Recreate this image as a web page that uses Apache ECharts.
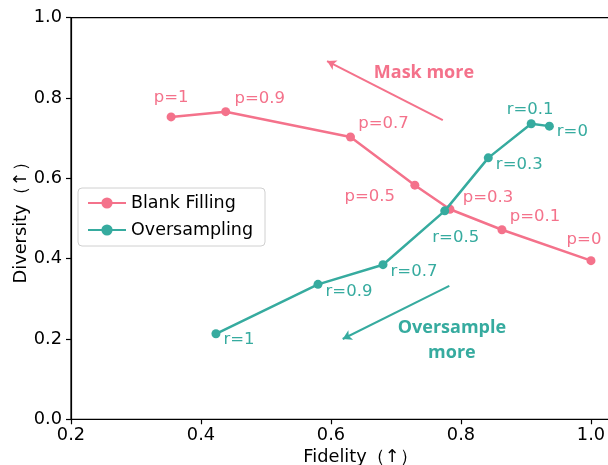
<!DOCTYPE html>
<html>
<head>
<meta charset="utf-8">
<script src="https://cdn.jsdelivr.net/npm/echarts@6/dist/echarts.min.js"></script>
<style>html,body{margin:0;padding:0;background:#fff}#c{width:608px;height:465px}</style>
</head>
<body>
<div id="c"></div>
<script>
// ---- data ----
const blankFidelity = [0.354, 0.438, 0.630, 0.729, 0.783, 0.863, 1.000];
const blankDiversity = [0.753, 0.766, 0.703, 0.583, 0.523, 0.472, 0.395];
const blankLabels = ['p=1', 'p=0.9', 'p=0.7', 'p=0.5', 'p=0.3', 'p=0.1', 'p=0'];

const overFidelity = [0.936, 0.908, 0.842, 0.775, 0.680, 0.580, 0.423];
const overDiversity = [0.730, 0.736, 0.651, 0.519, 0.385, 0.336, 0.213];
const overLabels = ['r=0', 'r=0.1', 'r=0.3', 'r=0.5', 'r=0.7', 'r=0.9', 'r=1'];

const xTicks = [0.2, 0.4, 0.6, 0.8, 1.0];
const yTicks = [0.0, 0.2, 0.4, 0.6, 0.8, 1.0];

// annotation arrows (head first, tail second) and texts, in data coordinates
const maskArrow = [[0.594, 0.892], [0.772, 0.745]];
const overArrow = [[0.618, 0.200], [0.782, 0.332]];
const maskText = [0.743, 0.862];
const overText = [0.786, 0.197];

// ---- styles ----
const PINK = '#F4728B';
const TEAL = '#36AB9F';
const blankOffsets = [[0, -19], [34, -13], [33, -13], [-45, 12], [38, -12], [33, -13], [-7, -21]];
const overOffsets = [[23, 6], [-1, -14], [31, 7], [11, 27], [31, 7], [31, 7], [23, 6]];

function buildData(xs, ys, labels, offsets, color) {
  return xs.map((x, i) => ({
    value: [x, ys[i]],
    label: {
      show: true, position: 'inside', offset: offsets[i],
      formatter: labels[i], color: color,
      fontFamily: 'DejaVu Sans', fontSize: 16.5
    }
  }));
}

const chart = echarts.init(document.getElementById('c'), null, {renderer: 'canvas'});
const axisFont = {fontFamily: 'DejaVu Sans', fontSize: 17.8, color: '#000'};

chart.setOption({
  animation: false,
  backgroundColor: '#fff',
  grid: {left: 71, top: 17.7, right: -42, bottom: 465 - 419.3, show: true, borderColor: '#000', borderWidth: 1.2,
         containLabel: false, outerBoundsMode: 'none'},
  legend: {
    left: 78, top: 188, orient: 'vertical',
    padding: [6, 12, 7, 9], itemGap: 9, itemWidth: 38, itemHeight: 14, itemTextGap: 13,
    borderColor: '#d0d0d0', borderWidth: 1, borderRadius: 4, backgroundColor: '#fff',
    textStyle: {fontFamily: 'DejaVu Sans', fontSize: 17.5, color: '#000'},
    data: ['Blank Filling', 'Oversampling']
  },
  xAxis: {
    type: 'value', min: 0.2, max: 1.0908,
    name: 'Fidelity（↑）', nameLocation: 'middle', nameGap: 29, nameMoveOverlap: false,
    nameTextStyle: {fontFamily: 'DejaVu Sans', fontSize: 17.8, color: '#000', verticalAlign: 'top'},
    axisLine: {show: true, lineStyle: {color: '#000', width: 1.2}},
    axisTick: {show: true, inside: false, length: 5, lineStyle: {color: '#000', width: 1.2}, customValues: xTicks},
    axisLabel: Object.assign({margin: 7, customValues: xTicks, formatter: v => v.toFixed(1)}, axisFont),
    splitLine: {show: false}
  },
  yAxis: {
    type: 'value', min: 0, max: 1, interval: 0.2,
    name: 'Diversity（↑）', nameLocation: 'middle', nameGap: 41, nameMoveOverlap: false,
    nameTextStyle: {fontFamily: 'DejaVu Sans', fontSize: 17.8, color: '#000'},
    axisLine: {show: true, lineStyle: {color: '#000', width: 1.2}},
    axisTick: {show: true, inside: false, length: 5, lineStyle: {color: '#000', width: 1.2}},
    axisLabel: Object.assign({margin: 9, formatter: v => v.toFixed(1)}, axisFont),
    splitLine: {show: false}
  },
  series: [
    {
      name: 'Blank Filling', type: 'line',
      data: buildData(blankFidelity, blankDiversity, blankLabels, blankOffsets, PINK),
      color: PINK, symbol: 'circle', symbolSize: 9, showSymbol: true,
      lineStyle: {color: PINK, width: 2.5}, itemStyle: {color: PINK},
      z: 3,
      markLine: {
        silent: true, symbol: ['arrow', 'none'], symbolSize: [8, 9],
        lineStyle: {color: PINK, width: 2, type: 'solid'}, label: {show: false},
        data: [[{coord: maskArrow[0]}, {coord: maskArrow[1]}]]
      },
      markPoint: {
        silent: true, symbol: 'circle', symbolSize: 0,
        data: [{coord: maskText, label: {show: true, position: 'inside', formatter: 'Mask more', color: PINK,
          fontFamily: 'Open Sans', fontWeight: 'bold', fontSize: 18}}]
      }
    },
    {
      name: 'Oversampling', type: 'line',
      data: buildData(overFidelity, overDiversity, overLabels, overOffsets, TEAL),
      color: TEAL, symbol: 'circle', symbolSize: 9, showSymbol: true,
      lineStyle: {color: TEAL, width: 2.5}, itemStyle: {color: TEAL},
      z: 4,
      markLine: {
        silent: true, symbol: ['arrow', 'none'], symbolSize: [8, 9],
        lineStyle: {color: TEAL, width: 2, type: 'solid'}, label: {show: false},
        data: [[{coord: overArrow[0]}, {coord: overArrow[1]}]]
      },
      markPoint: {
        silent: true, symbol: 'circle', symbolSize: 0,
        data: [{coord: overText, label: {show: true, position: 'inside', formatter: 'Oversample\nmore', color: TEAL,
          fontFamily: 'Open Sans', fontWeight: 'bold', fontSize: 18, lineHeight: 25, align: 'center'}}]
      }
    }
  ]
});
</script>
</body>
</html>
